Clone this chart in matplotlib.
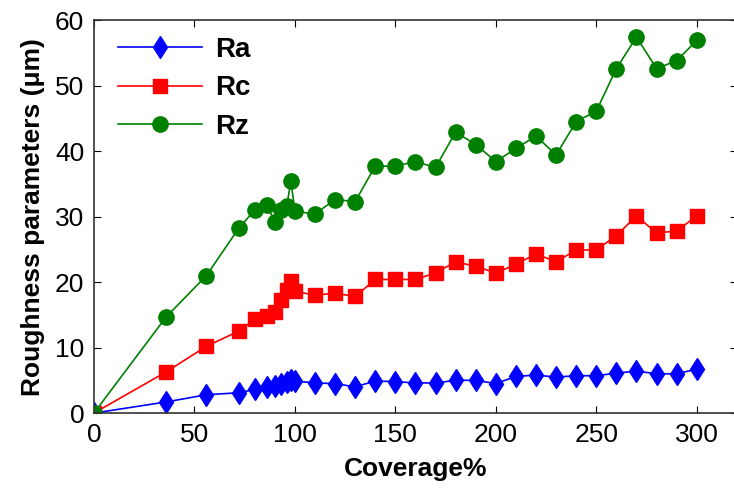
import matplotlib.pyplot as plt

# coverage (%) and roughness parameters (um)
coverage = [0, 36, 56, 72, 80, 86, 90, 93, 96, 98, 100,
            110, 120, 130, 140, 150, 160, 170, 180, 190, 200,
            210, 220, 230, 240, 250, 260, 270, 280, 290, 300]
ra = [0, 1.7, 2.8, 3.1, 3.6, 4.0, 4.2, 4.5, 4.7, 5.1, 4.9,
      4.6, 4.5, 4.0, 4.9, 4.8, 4.6, 4.6, 5.0, 5.0, 4.5,
      5.6, 5.8, 5.5, 5.7, 5.7, 6.1, 6.4, 6.0, 6.0, 6.7]
rc = [0, 6.3, 10.2, 12.5, 14.3, 14.8, 15.5, 17.2, 18.8, 20.2, 18.6,
      18.0, 18.3, 17.8, 20.4, 20.4, 20.4, 21.4, 23.1, 22.4, 21.4,
      22.7, 24.3, 23.1, 24.9, 24.9, 27.1, 30.1, 27.5, 27.8, 30.1]
rz = [0, 14.7, 21.0, 28.2, 31.0, 31.8, 29.2, 31.0, 31.6, 35.5, 30.8,
      30.4, 32.6, 32.3, 37.7, 37.7, 38.4, 37.5, 42.9, 41.0, 38.4,
      40.4, 42.3, 39.4, 44.5, 46.1, 52.6, 57.4, 52.6, 53.8, 56.9]

plt.rcParams['font.family'] = ['Liberation Sans', 'DejaVu Sans']

fig = plt.figure(figsize=(7.34, 4.9), dpi=100)
ax = fig.add_axes([0.128, 0.157, 0.876, 0.802])

ax.plot(coverage, ra, color='blue', marker='d', markersize=11.5, lw=1.2, label='Ra')
ax.plot(coverage, rc, color='red', marker='s', markersize=9.5, lw=1.2, label='Rc')
ax.plot(coverage, rz, color='green', marker='o', markersize=11, lw=1.2, label='Rz')

ax.set_xlim(0, 320)
ax.set_ylim(0, 60)
ax.set_xticks(range(0, 301, 50))
ax.set_yticks(range(0, 61, 10))
ax.tick_params(direction='in', top=True, right=True, labelsize=19, length=5)
ax.tick_params(axis='x', pad=7)
ax.tick_params(axis='y', pad=7)
for s in ax.spines.values():
    s.set_linewidth(1.2)
    s.set_color('#333333')

ax.set_xlabel('Coverage%', fontsize=19, fontweight='bold', labelpad=7)
ax.set_ylabel('Roughness parameters (μm)', fontsize=19, fontweight='bold', labelpad=7)

leg = ax.legend(loc='upper left', bbox_to_anchor=(0.012, 1.0), frameon=False,
                handlelength=3.0, prop={'weight': 'bold', 'size': 20},
                borderaxespad=0.2, labelspacing=0.45, handletextpad=0.5)

plt.savefig('out.png')
